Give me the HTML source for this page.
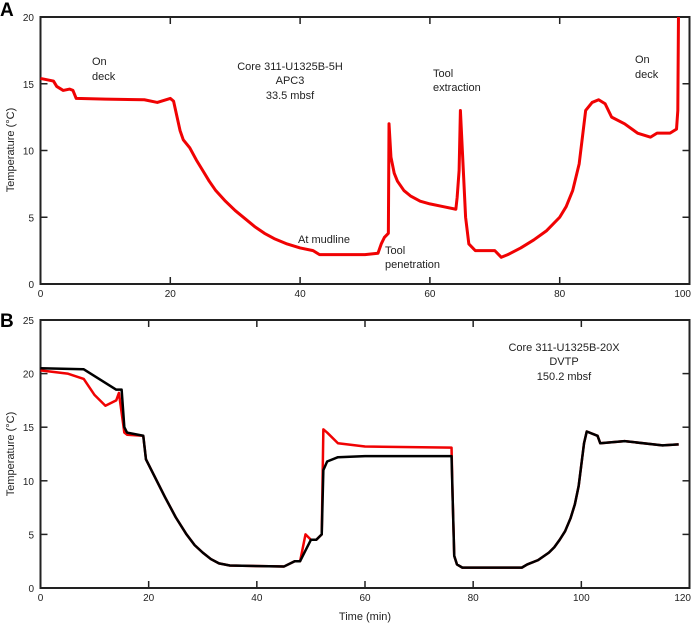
<!DOCTYPE html>
<html><head><meta charset="utf-8"><style>
body{margin:0;background:#fff}
svg{display:block;font-family:"Liberation Sans",sans-serif}
text{font-size:11px;fill:#222}
</style></head><body>
<svg id="s" width="692" height="627" viewBox="0 0 692 627">
<rect x="40.5" y="17" width="649" height="267" fill="none" stroke="#222" stroke-width="2"/>
<rect x="40.5" y="320" width="649" height="268" fill="none" stroke="#222" stroke-width="2"/>
<text x="0" y="16" style="font-size:19px;font-weight:bold;fill:#000">A</text>
<text x="0" y="327" style="font-size:19px;font-weight:bold;fill:#000">B</text>
<g id="g"></g>
<text x="92" y="65">On</text><text x="92" y="80">deck</text>
<text x="290" y="70" text-anchor="middle">Core 311-U1325B-5H</text>
<text x="290" y="84" text-anchor="middle">APC3</text>
<text x="290" y="99" text-anchor="middle">33.5 mbsf</text>
<text x="433" y="77">Tool</text><text x="433" y="91">extraction</text>
<text x="635" y="63">On</text><text x="635" y="78">deck</text>
<text x="298" y="243">At mudline</text>
<text x="385" y="254">Tool</text><text x="385" y="268">penetration</text>
<text x="564" y="351" text-anchor="middle">Core 311-U1325B-20X</text>
<text x="564" y="365" text-anchor="middle">DVTP</text>
<text x="564" y="380" text-anchor="middle">150.2 mbsf</text>
<text x="14" y="150" text-anchor="middle" transform="rotate(-90 14 150)">Temperature (°C)</text>
<text x="14" y="454" text-anchor="middle" transform="rotate(-90 14 454)">Temperature (°C)</text>
<text x="365" y="620" text-anchor="middle">Time (min)</text>
</svg>
<script>
const g=document.getElementById('g');let h='';
function P(x0,x1,xmax,y0,y1,ymax){return (t,v)=>[x0+(x1-x0)*t/xmax,y1-(y1-y0)*v/ymax];}
const A=P(40.5,689.5,100,17,284,20),B=P(40.5,689.5,120,320,588,25);
function ticks(m,xs,ys,top,bot,right){xs.forEach((t,i)=>{const[x]=m(t,0);const last=i==xs.length-1;h+=`<line x1="${x}" y1="${bot}" x2="${x}" y2="${bot-7}" stroke="#222" stroke-width="1.5"/><line x1="${x}" y1="${top}" x2="${x}" y2="${top+7}" stroke="#222" stroke-width="1.5"/><text x="${last?691:x}" y="${bot+13}" text-anchor="${last?'end':'middle'}" style="font-size:10px">${t}</text>`});
ys.forEach(v=>{const[,y]=m(0,v);h+=`<line x1="40.5" y1="${y}" x2="47.5" y2="${y}" stroke="#222" stroke-width="1.5"/><line x1="${right}" y1="${y}" x2="${right-7}" y2="${y}" stroke="#222" stroke-width="1.5"/><text x="34" y="${y+4}" text-anchor="end" style="font-size:10px">${v}</text>`});}
ticks(A,[0,20,40,60,80,100],[0,5,10,15,20],17,284,689.5);
ticks(B,[0,20,40,60,80,100,120],[0,5,10,15,20,25],320,588,689.5);
function line(m,d,c,w){h+=`<polyline fill="none" stroke="${c}" stroke-width="${w}" stroke-linejoin="round" points="${d.map(p=>m(p[0],p[1]).join(',')).join(' ')}"/>`;}
const a=[[0,15.4],[2,15.2],[2.5,14.8],[3.5,14.5],[4.5,14.6],[5,14.5],[5.5,13.9],[10,13.85],[16,13.8],[18,13.6],[20,13.9],[20.5,13.7],[21.5,11.5],[22,10.8],[23,10.2],[24,9.3],[25,8.5],[26,7.7],[27,7],[28.5,6.2],[30,5.5],[31.5,4.9],[33,4.3],[34.5,3.8],[36,3.4],[38,3.0],[40,2.7],[42,2.5],[43,2.2],[45,2.2],[47,2.2],[50,2.2],[52,2.3],[52.5,3],[53,3.5],[53.6,3.8],[53.7,12],[54,9.5],[54.5,8.3],[55,7.7],[56,7],[57,6.6],[58.5,6.2],[60,6],[62,5.8],[64,5.6],[64.2,6.5],[64.5,8.5],[64.7,13],[65,10],[65.5,5],[66,3],[67,2.5],[70,2.5],[71,2.0],[72,2.2],[74,2.7],[76,3.3],[78,4],[80,5],[81,5.8],[82,7],[83,9],[83.5,11],[84,13],[85,13.6],[86,13.8],[87,13.5],[88,12.5],[90,12],[92,11.3],[94,11],[95,11.3],[97,11.3],[98,11.6],[98.2,13],[98.3,20]];
line(A,a,'#f00203',3);
const tail=[[78,1.9],[89,1.9],[90,2.2],[92,2.6],[94,3.3],[95,3.8],[96,4.5],[97,5.3],[98,6.5],[98.8,7.8],[99.5,9.5],[100,11.5],[100.5,13.5],[101,14.6],[103,14.2],[103.5,13.5],[108,13.7],[115,13.3],[118,13.4]];
const mid=[[20,11.5],[21.5,10],[23,8.5],[25,6.6],[27,5],[28.5,4],[30,3.3],[31.5,2.7],[33,2.3],[35,2.1],[45,2]];
const bk=[[0,20.5],[8,20.4],[14,18.5],[15,18.5],[15.5,15],[16,14.5],[19,14.2],[19.5,12]].concat(mid,[[47,2.5],[48,2.5],[49,3.5],[50,4.5],[51,4.5],[52,5],[52.3,11],[53,11.8],[55,12.2],[60,12.3],[76,12.3],[76.2,8.5],[76.5,3],[77,2.2]],tail);
const rd=[[0,20.3],[5,20],[8,19.5],[10,18],[12,17],[14,17.5],[14.5,18.2],[15.5,14.5],[16,14.3],[19,14.2],[19.5,12]].concat(mid,[[47,2.5],[48,2.5],[49,5],[50,4.5],[51,4.5],[52,5],[52.3,14.8],[53,14.5],[55,13.5],[60,13.2],[76,13.1],[76.2,8.5],[76.5,3],[77,2.2]],tail);
line(B,rd,'#f00203',2.5);line(B,bk,'#000',2.5);
g.innerHTML=h;
</script>
</body></html>
